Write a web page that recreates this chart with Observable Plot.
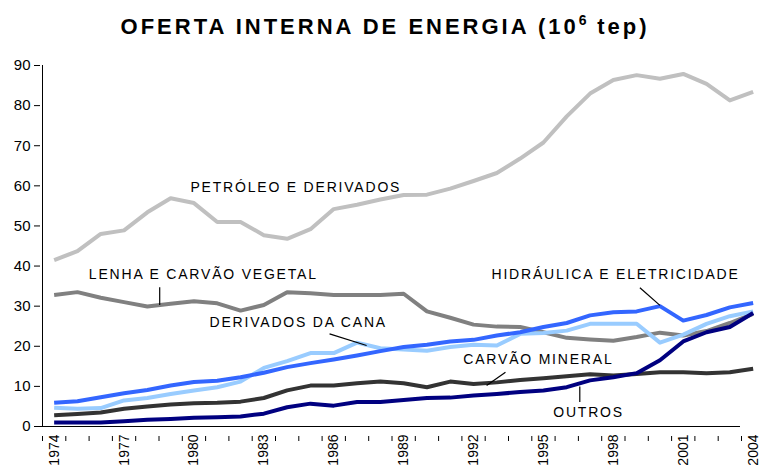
<!DOCTYPE html>
<html><head><meta charset="utf-8">
<script src="https://cdn.jsdelivr.net/npm/d3@7"></script>
<script src="https://cdn.jsdelivr.net/npm/@observablehq/plot@0.6"></script>
<style>
body{margin:0;background:#fff;overflow:hidden;font-family:"Liberation Sans",Arial,sans-serif}
#wrap{position:relative;width:760px;height:466px;overflow:hidden}
#title{position:absolute;left:0;top:14px;width:770px;text-align:center;font-weight:bold;font-size:22px;line-height:25px;letter-spacing:3px;color:#000;z-index:2}
#title sup{font-size:14px;vertical-align:9px;line-height:0;letter-spacing:1.5px}
</style></head><body><div id="wrap"><div id="title">OFERTA INTERNA DE ENERGIA (10<sup>6</sup> tep)</div></div>
<script>
const years = [1974,1975,1976,1977,1978,1979,1980,1981,1982,1983,1984,1985,1986,1987,1988,1989,1990,1991,1992,1993,1994,1995,1996,1997,1998,1999,2000,2001,2002,2003,2004];
const petroleo   = [41.5,43.7,48.0,48.9,53.4,56.9,55.7,51.0,51.0,47.7,46.8,49.2,54.2,55.3,56.6,57.7,57.8,59.3,61.2,63.2,66.8,70.8,77.3,83.0,86.4,87.6,86.7,87.9,85.4,81.3,83.4];
const lenha      = [32.8,33.5,32.1,31.0,29.9,30.6,31.2,30.7,28.9,30.3,33.5,33.2,32.8,32.8,32.8,33.1,28.7,27.1,25.4,24.9,24.8,23.5,22.1,21.7,21.4,22.3,23.4,22.7,23.8,25.8,28.1];
const hidraulica = [5.9,6.3,7.3,8.3,9.1,10.2,11.1,11.4,12.3,13.4,14.8,15.8,16.7,17.7,18.8,19.8,20.4,21.2,21.6,22.7,23.5,24.8,25.8,27.7,28.5,28.7,30.0,26.4,27.8,29.7,30.8];
const cana       = [4.7,4.4,4.6,6.5,7.1,8.1,9.0,9.8,11.2,14.6,16.3,18.3,18.3,20.9,19.5,19.2,18.9,19.8,20.4,20.2,23.1,23.3,23.9,25.6,25.6,25.6,20.9,22.9,25.6,27.5,28.7];
const carvao     = [2.8,3.1,3.5,4.4,5.0,5.5,5.8,5.9,6.2,7.1,9.0,10.2,10.2,10.8,11.2,10.8,9.8,11.2,10.6,11.0,11.6,12.0,12.5,13.0,12.7,13.1,13.5,13.5,13.3,13.5,14.4];
const outros     = [1.0,1.0,1.0,1.3,1.7,1.9,2.2,2.3,2.5,3.2,4.8,5.7,5.2,6.1,6.1,6.6,7.1,7.2,7.7,8.1,8.6,9.0,9.8,11.5,12.3,13.3,16.5,21.2,23.5,24.8,28.3];
const seriesNames = ["PETRÓLEO E DERIVADOS","LENHA E CARVÃO VEGETAL","CARVÃO MINERAL","DERIVADOS DA CANA","HIDRÁULICA E ELETRICIDADE","OUTROS"];
const yTicks = [0,10,20,30,40,50,60,70,80,90];
const xLabelYears = [1974,1977,1980,1983,1986,1989,1992,1995,1998,2001,2004];

// annotation placement (data units)
const labelX = [1979.85,1975.49,1991.56,1980.67,1992.77,1995.42];
const labelY = [59.5,37.9,16.6,25.9,37.9,3.4];
const leaderX1 = [null,1978.53,1993.37,1985.82,1999.14,1996.56];
const leaderY1 = [null,34.7,13.5,23.1,34.6,10.0];
const leaderX2 = [null,1978.53,1992.56,1987.41,2000.0,1996.56];
const leaderY2 = [null,30.3,10.2,20.2,30.2,6.1];

const colors = ["#c0c0c0","#808080","#333333","#99ccff","#3366ff","#000080"];
const values = [petroleo,lenha,carvao,cana,hidraulica,outros];

const rows = [];
seriesNames.forEach((s,i)=>years.forEach((yr,j)=>rows.push({serie:s,year:yr,value:values[i][j]})));
const labels = seriesNames.map((s,i)=>({text:s,x:labelX[i],y:labelY[i]}));
const leaders = seriesNames.map((s,i)=>({x1:leaderX1[i],y1:leaderY1[i],x2:leaderX2[i],y2:leaderY2[i]})).filter(d=>d.x1!=null);
const boundaries = years.map(y=>y-0.5).concat([years[years.length-1]+0.5]);

const chart = Plot.plot({
  width:760, height:466,
  style:{fontFamily:'"Liberation Sans",Arial,sans-serif',background:"#fff",color:"#000"},
  x:{type:"linear",domain:[boundaries[0],boundaries[boundaries.length-1]],range:[42,764.3]},
  y:{domain:[0,90],range:[426,65]},
  color:{domain:seriesNames,range:colors},
  marks:[
    Plot.ruleY([0],{stroke:"#000",strokeWidth:1}),
    Plot.ruleX([boundaries[0]],{y1:0,y2:90,stroke:"#000",strokeWidth:1}),
    Plot.axisY({ticks:yTicks,tickSize:6,tickPadding:4,fontSize:15,stroke:"#000",tickFormat:d=>String(d)}),
    Plot.axisX({ticks:boundaries,tickSize:5,tickFormat:()=>"" ,stroke:"#000"}),
    Plot.text(xLabelYears,{x:d=>d,y:()=>0,text:d=>String(d),rotate:-90,textAnchor:"end",lineAnchor:"middle",dy:8,fontSize:14,fill:"#000"}),
    Plot.line(rows,{x:"year",y:"value",z:"serie",stroke:"serie",strokeWidth:4,strokeLinejoin:"round",strokeLinecap:"butt"}),
    Plot.link(leaders,{x1:"x1",y1:"y1",x2:"x2",y2:"y2",stroke:"#000",strokeWidth:1.2}),
    Plot.text(labels,{x:"x",y:"y",text:"text",textAnchor:"start",fontSize:14,fill:"#000"})
  ]
});
document.getElementById("wrap").appendChild(chart);
d3.select(chart).selectAll("text").each(function(){
  const t = this.textContent;
  if (seriesNames.includes(t)) {
    const w = this.getComputedTextLength();
    this.setAttribute("textLength", (w + 1.8*(t.length-1)).toFixed(1));
    this.setAttribute("lengthAdjust","spacing");
  }
});
</script></body></html>
